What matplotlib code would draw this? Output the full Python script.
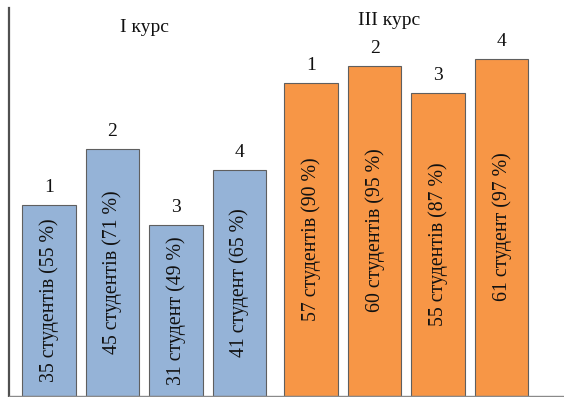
import matplotlib
matplotlib.use("Agg")
import matplotlib.pyplot as plt

# Survey results for two student cohorts
group_titles = ["I курс", "III курс"]
bar_numbers = ["1", "2", "3", "4"]
first_year_counts = [35, 45, 31, 41]
first_year_pct = [55, 71, 49, 65]
third_year_counts = [57, 60, 55, 61]
third_year_pct = [90, 95, 87, 97]


def student_word(n):
    return "студент" if n % 10 == 1 and n % 100 != 11 else "студентів"


plt.rcParams["font.family"] = ["Liberation Serif", "DejaVu Serif"]

W, H, DPI = 564, 397, 100
fig = plt.figure(figsize=(W / DPI, H / DPI), dpi=DPI)

left_px, bottom_px, top_px = 9, 1.5, 8
ax = fig.add_axes([left_px / W, bottom_px / H, 1 - left_px / W,
                   (H - bottom_px - top_px) / H])

groups = [
    (first_year_counts, first_year_pct, "#95B3D7", 0.0),
    (third_year_counts, third_year_pct, "#F79646", 4.13),
]

bar_w = 0.84
for counts, pcts, color, offset in groups:
    xs = [offset + i for i in range(len(pcts))]
    ax.bar(xs, pcts, width=bar_w, color=color, edgecolor="#5f5f5f",
           linewidth=0.8, zorder=2)
    for x, c, p, num in zip(xs, counts, pcts, bar_numbers):
        ax.annotate(num, (x, p), xytext=(0, 9.3), textcoords="offset points",
                    ha="center", va="baseline", fontsize=14, color="#111111")
        ax.text(x, p / 2, f"{c} {student_word(c)} ({p} %)", rotation=90,
                ha="center", va="center", fontsize=14.3, color="#111111",
                zorder=3)

ax.set_xlim(-0.628, 8.112)
ax.set_ylim(0, 111.6)
ax.set_xticks([])
ax.set_yticks([])
for side in ("top", "right"):
    ax.spines[side].set_visible(False)
ax.spines["left"].set_color("#505050")
ax.spines["left"].set_linewidth(1.6)
ax.spines["bottom"].set_color("#8a8a8a")
ax.spines["bottom"].set_linewidth(1.0)

fig.text(145 / W, 1 - 32 / H, group_titles[0], ha="center",
         va="baseline", fontsize=14, color="#111111")
fig.text(389 / W, 1 - 25 / H, group_titles[1], ha="center",
         va="baseline", fontsize=14, color="#111111")

fig.savefig("out.png", dpi=DPI)
